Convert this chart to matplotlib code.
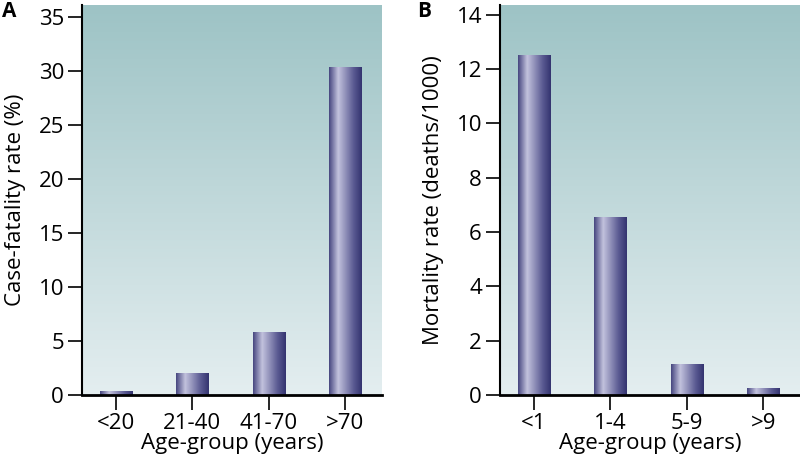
import numpy as np
import matplotlib.pyplot as plt
from matplotlib.colors import LinearSegmentedColormap

plt.rcParams['font.family'] = ['Open Sans', 'DejaVu Sans']

# panel A: case-fatality by age
groups_a = ['<20', '21-40', '41-70', '>70']
rate_a = [0.3, 2.0, 5.8, 30.3]
yticks_a = [0, 5, 10, 15, 20, 25, 30, 35]

# panel B: mortality by age
groups_b = ['<1', '1-4', '5-9', '>9']
rate_b = [12.5, 6.55, 1.13, 0.25]
yticks_b = [0, 2, 4, 6, 8, 10, 12, 14]

bg_cmap = LinearSegmentedColormap.from_list('bg', ['#e4eef0', '#9dc3c5'])
bar_cmap = LinearSegmentedColormap.from_list(
    'bar', [(0.0, '#45457f'), (0.28, '#c2c2dd'), (0.75, '#5a5a92'), (1.0, '#33336f')])


def panel(ax, groups, vals, yticks, ytop, ylabel):
    x = np.arange(len(groups))
    # vertical background gradient
    grad = np.linspace(0, 1, 256).reshape(-1, 1)
    ax.imshow(grad, extent=[0, 1, 0, 1], transform=ax.transAxes, origin='lower',
              cmap=bg_cmap, aspect='auto', zorder=0)
    bars = ax.bar(x, vals, width=0.42, color='none', zorder=2)
    hgrad = np.linspace(0, 1, 256).reshape(1, -1)
    for b in bars:
        x0, y0 = b.get_x(), b.get_y()
        ax.imshow(hgrad, extent=[x0, x0 + b.get_width(), y0, y0 + b.get_height()],
                  cmap=bar_cmap, aspect='auto', zorder=2, clip_path=b, clip_on=True)
    ax.set_xlim(-0.44, 3.48)
    ax.set_ylim(0, ytop)
    ax.set_xticks(x)
    ax.set_xticklabels(groups)
    ax.set_yticks(yticks)
    for s in ['top', 'right']:
        ax.spines[s].set_visible(False)
    ax.spines['left'].set_linewidth(1.5)
    ax.spines['bottom'].set_linewidth(2)
    ax.tick_params(axis='both', labelsize=16, width=1.2, length=10, pad=3)
    ax.tick_params(axis='x', length=11, pad=2)
    ax.set_xlabel('Age-group (years)', fontsize=16, labelpad=-1)
    ax.set_ylabel(ylabel, fontsize=16, labelpad=9)
    return ax


fig = plt.figure(figsize=(8, 4.69), dpi=100)
ax1 = fig.add_axes([0.1025, 0.158, 0.375, 0.8316])
ax2 = fig.add_axes([0.625, 0.158, 0.375, 0.8316])
panel(ax1, groups_a, rate_a, yticks_a, 36.1, 'Case-fatality rate (%)')
panel(ax2, groups_b, rate_b, yticks_b, 14.37, 'Mortality rate (deaths/1000)')
fig.text(0.002, 0.998, 'A', fontsize=15, fontweight='bold', va='top', ha='left')
fig.text(0.522, 0.998, 'B', fontsize=15, fontweight='bold', va='top', ha='left')

fig.savefig('out.png', dpi=100)
